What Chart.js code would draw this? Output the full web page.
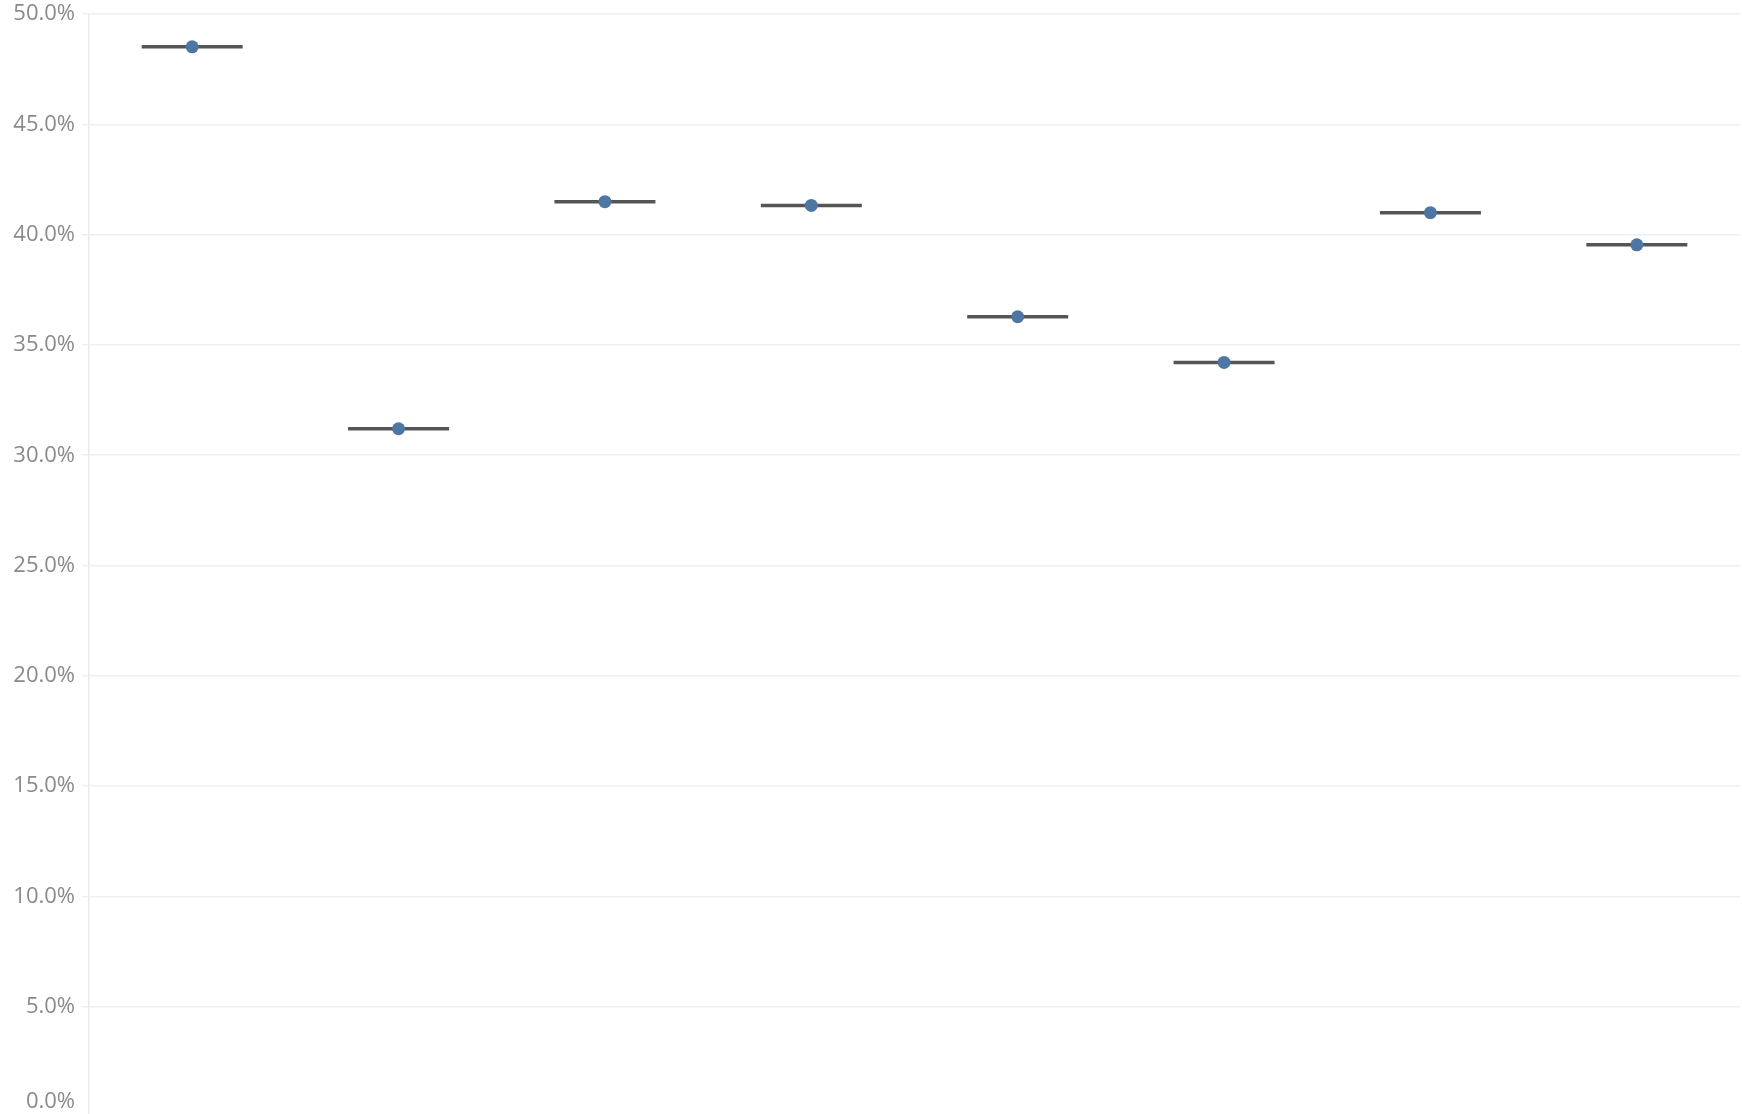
<!DOCTYPE html>
<html>
<head>
<meta charset="utf-8">
<script src="https://cdn.jsdelivr.net/npm/chart.js@4/dist/chart.umd.min.js"></script>
<style>
  html, body { margin: 0; padding: 0; background: #fff; overflow: hidden; }
  #wrap { width: 1742px; height: 1114px; overflow: hidden; }
  #ciChart { display: block; margin-top: -6px; }
</style>
</head>
<body>
<div id="wrap"><canvas id="ciChart" width="1742" height="1143"></canvas></div>
<script>
// categories (no labels shown on the original)
var categories = ['Group 1', 'Group 2', 'Group 3', 'Group 4', 'Group 5', 'Group 6', 'Group 7', 'Group 8'];
// share per group, in percent
var shares = [48.52, 31.20, 41.50, 41.33, 36.28, 34.21, 41.00, 39.54];
var yTicks = [0, 5, 10, 15, 20, 25, 30, 35, 40, 45, 50];

var labelColor = '#8a8a8a';
var gridColor = '#efefef';
var dotColor = '#4e76a3';
var barColor = '#555555';

// zero label sits partly under the bottom edge, so redraw it pulled up like the original
var zeroLabel = {
    id: 'zeroLabel',
    afterDraw: function(chart) {
        var s = chart.scales.y;
        var ctx = chart.ctx;
        var y = Math.min(s.getPixelForValue(0), 1114 + 6 - 12);
        ctx.save();
        ctx.font = '22px "Open Sans"';
        ctx.fillStyle = labelColor;
        ctx.textAlign = 'right';
        ctx.textBaseline = 'middle';
        ctx.fillText('0.0%', s.right - 14, y);
        ctx.restore();
    }
};

var ctx = document.getElementById('ciChart').getContext('2d');
var chart = new Chart(ctx, {
    type: 'line',
    data: {
        labels: categories,
        datasets: [
        {
            label: 'Point',
            data: shares,
            showLine: false,
            pointStyle: 'circle',
            pointRadius: 6.5,
            pointBackgroundColor: dotColor,
            pointBorderWidth: 0,
            order: 0
        },
        {
            label: 'Range',
            data: shares,
            showLine: false,
            pointStyle: 'line',
            pointRadius: 50.5,
            pointBorderColor: barColor,
            pointBorderWidth: 3.5,
            order: 1
        }
        ]
    },
    options: {
        responsive: false,
        animation: false,
        layout: { autoPadding: false, padding: { top: 7, right: 2, bottom: 7, left: 0 } },
        plugins: {
            legend: { display: false },
            tooltip: { enabled: false }
        },
        scales: {
            x: {
                type: 'category',
                offset: true,
                display: false
            },
            y: {
                min: 0,
                max: 50,
                afterBuildTicks: function(s) {
                    s.ticks = yTicks.map(function(v) { return { value: v }; });
                },
                afterFit: function(s) { s.width = 89; },
                ticks: {
                    padding: 7,
                    color: labelColor,
                    font: { family: '"Open Sans"', size: 22 },
                    callback: function(v) { return v === 0 ? '' : v.toFixed(1) + '%'; }
                },
                grid: {
                    color: gridColor,
                    lineWidth: 1.5,
                    tickLength: 7,
                    tickColor: gridColor
                },
                border: { color: '#ebebeb', width: 1.5 }
            }
        }
    },
    plugins: [zeroLabel]
});
</script>
</body>
</html>
